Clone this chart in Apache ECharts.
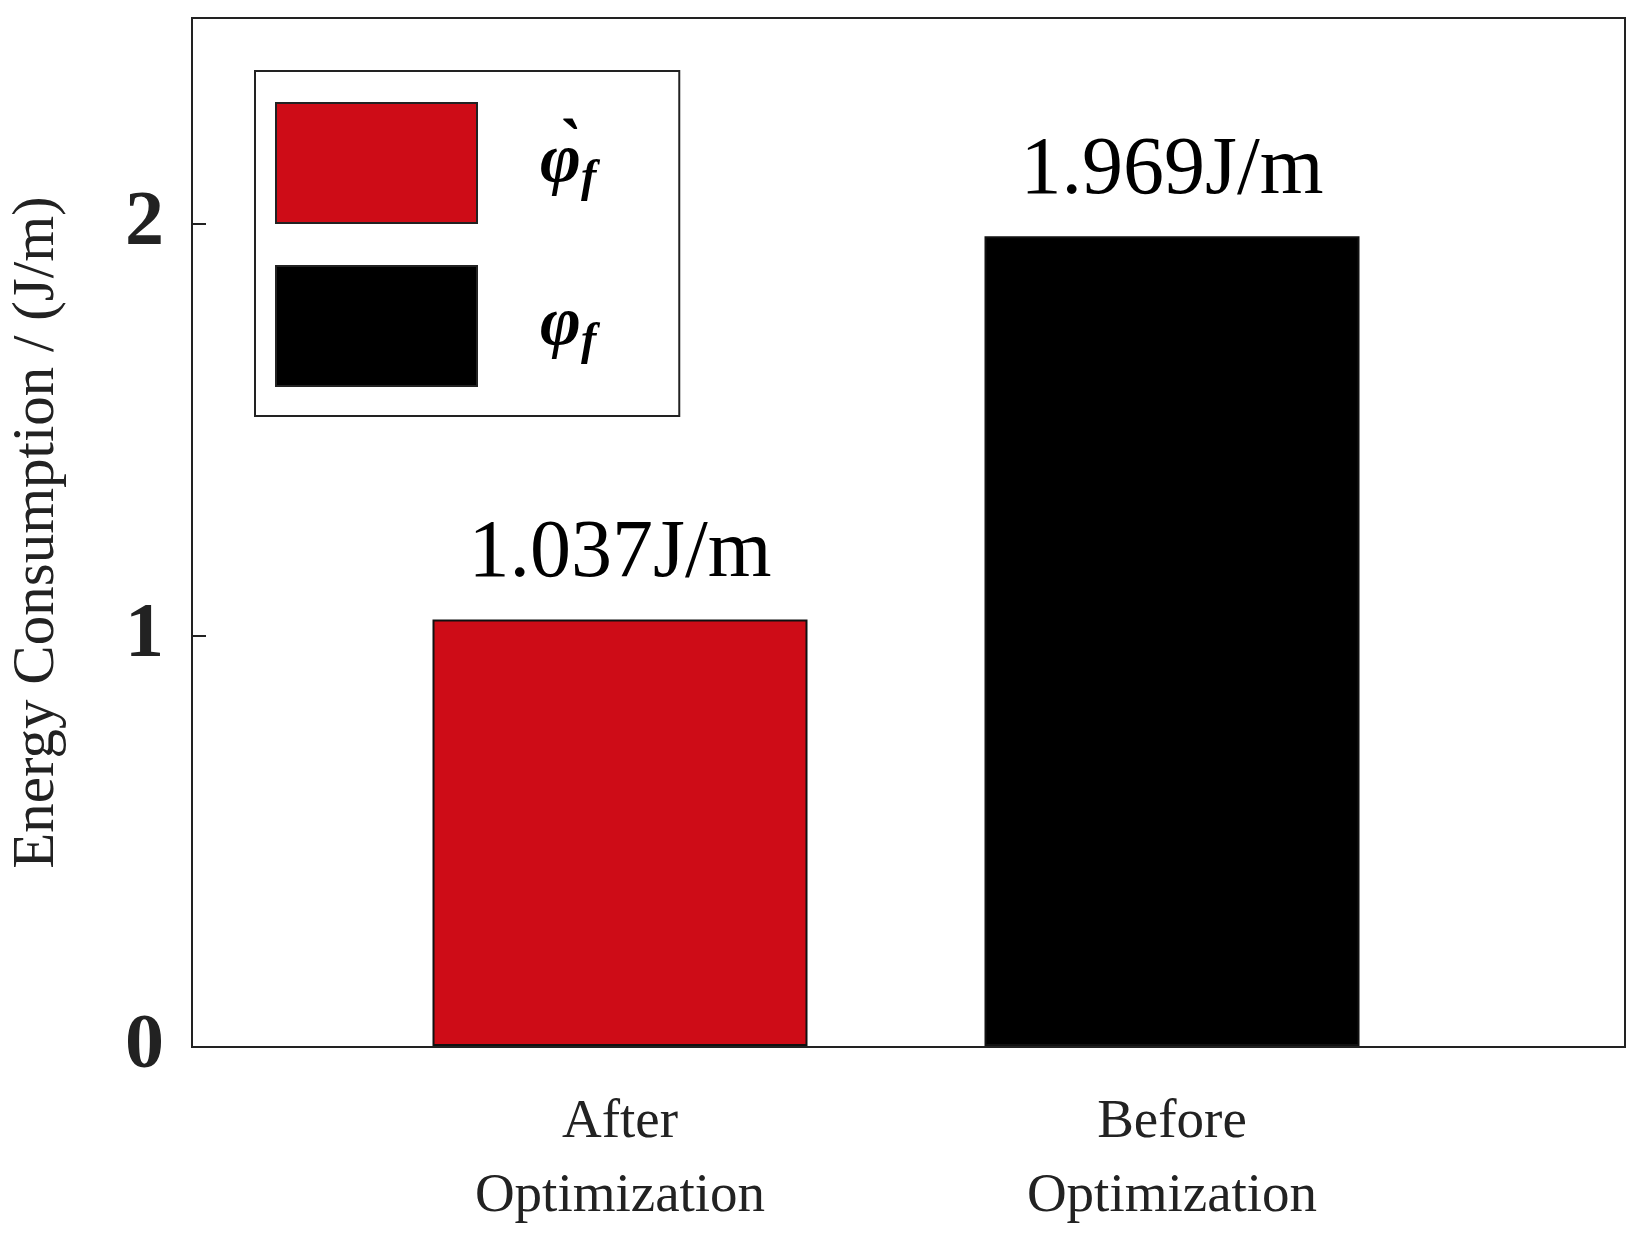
<!DOCTYPE html>
<html>
<head>
<meta charset="utf-8">
<script src="https://cdn.jsdelivr.net/npm/echarts@6/dist/echarts.min.js"></script>
<style>html,body{margin:0;background:#fff}#c{width:1647px;height:1234px}</style>
</head>
<body>
<div id="c"></div>
<script>
var categories = ['After\nOptimization', 'Before\nOptimization'];
var afterValues = [1.037, '-'];
var beforeValues = ['-', 1.969];
var yTicks = [0, 1, 2];

var serif = '"Liberation Serif", "DejaVu Serif", serif';
var chart = echarts.init(document.getElementById('c'));

var labelFmt = function (p) { return p.value.toFixed(3) + 'J/m'; };

var option = {
  backgroundColor: '#fff',
  animation: false,
  grid: [
    { left: 165, right: 22, top: 18, bottom: 187, show: true, borderColor: '#222', borderWidth: 2, backgroundColor: 'transparent' },
    { left: 344, width: 1104, top: 18, bottom: 187 }
  ],
  legend: {
    left: 255, top: 71,
    orient: 'vertical',
    icon: 'rect',
    itemWidth: 201, itemHeight: 120, itemGap: 41,
    padding: [31, 83, 29, 20],
    backgroundColor: '#fff', borderColor: '#222', borderWidth: 2,
    itemStyle: { borderColor: '#222', borderWidth: 2 },
    data: ['after', 'before'],
    formatter: function (n) {
      return n === 'after' ? '{a|φ̀}{s|f}' : '{a|φ}{s|f}';
    },
    textStyle: {
      padding: [0, 0, 0, 58],
      rich: {
        a: { fontFamily: serif, fontStyle: 'italic', fontWeight: 'bold', fontSize: 70, color: '#000' },
        s: { fontFamily: serif, fontStyle: 'italic', fontWeight: 'bold', fontSize: 46, color: '#000', padding: [32, 0, 0, 0] }
      }
    }
  },
  xAxis: [
    { gridIndex: 0, type: 'value', min: 0, max: 1, axisLabel: { show: false }, axisTick: { show: false }, splitLine: { show: false },
      axisLine: { lineStyle: { color: '#222', width: 2 } } },
    { gridIndex: 1, type: 'category', data: categories,
      axisLine: { show: false }, axisTick: { show: false },
      axisLabel: { margin: 40, fontFamily: serif, fontSize: 55, color: '#222', lineHeight: 74 } }
  ],
  yAxis: [
    { gridIndex: 0, type: 'value', min: 0, max: 2.5, interval: 1,
      name: 'Energy Consumption / (J/m)', nameLocation: 'middle', nameGap: 125,
      nameTextStyle: { fontFamily: serif, fontSize: 59, color: '#222' },
      axisLine: { show: true, lineStyle: { color: '#222', width: 2 } },
      axisTick: { show: true, inside: true, length: 14, lineStyle: { color: '#222', width: 2 } },
      splitLine: { show: false },
      axisLabel: { margin: 28, fontFamily: serif, fontWeight: 'bold', fontSize: 78, color: '#222',
        formatter: function (v) { return yTicks.indexOf(v) >= 0 ? String(v) : ''; } } },
    { gridIndex: 1, type: 'value', min: 0, max: 2.5, show: false }
  ],
  series: [
    { name: 'after', type: 'bar', xAxisIndex: 1, yAxisIndex: 1, data: afterValues, barWidth: 375, barGap: '-100%',
      itemStyle: { color: '#CE0C17', borderColor: '#111', borderWidth: 2 },
      label: { show: true, position: 'top', distance: 24, fontFamily: serif, fontSize: 82, color: '#000', formatter: labelFmt } },
    { name: 'before', type: 'bar', xAxisIndex: 1, yAxisIndex: 1, data: beforeValues, barWidth: 375, barGap: '-100%',
      itemStyle: { color: '#000', borderColor: '#111', borderWidth: 2 },
      label: { show: true, position: 'top', distance: 24, fontFamily: serif, fontSize: 82, color: '#000', formatter: labelFmt } }
  ]
};
chart.setOption(option);
</script>
</body>
</html>
